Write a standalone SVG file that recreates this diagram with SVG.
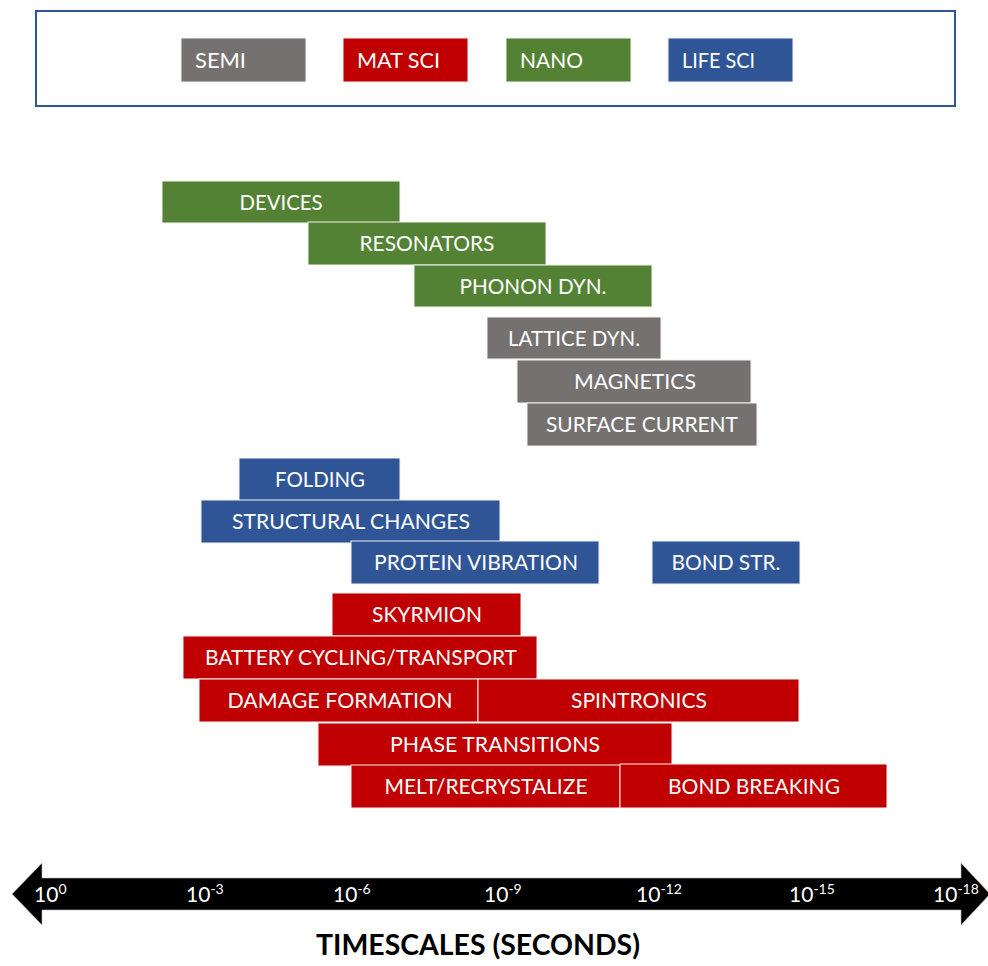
<svg xmlns="http://www.w3.org/2000/svg" width="988" height="966" viewBox="0 0 988 966">
<style>
  text { font-family: Lato, "Open Sans", "Liberation Sans", sans-serif; fill: #ffffff; font-size: 21px; }
  .bar { stroke: #f2f2f2; stroke-width: 1; }
  .semi { fill: #767171; }
  .mat { fill: #C00000; }
  .nano { fill: #548235; }
  .life { fill: #2F5597; }
  .lbl { text-anchor: middle; }
  .ax { font-size: 21px; }
  .sup { font-size: 14px; }
  .title { fill: #000000; font-weight: bold; font-size: 29px; text-anchor: middle; }
</style>
<rect x="0" y="0" width="988" height="966" fill="#ffffff"/>

<g id="legend">
  <rect x="36" y="11" width="919" height="95" fill="#ffffff" stroke="#2F5597" stroke-width="2"/>
  <g id="legend-semi"><rect class="bar semi" x="181" y="38" width="125" height="44"/><text x="195" y="68" textLength="51" lengthAdjust="spacingAndGlyphs">SEMI</text></g>
  <g id="legend-matsci"><rect class="bar mat" x="343" y="38" width="125" height="44"/><text x="357" y="68" textLength="83" lengthAdjust="spacingAndGlyphs">MAT SCI</text></g>
  <g id="legend-nano"><rect class="bar nano" x="506" y="38" width="125" height="44"/><text x="520" y="68" textLength="63" lengthAdjust="spacingAndGlyphs">NANO</text></g>
  <g id="legend-lifesci"><rect class="bar life" x="668" y="38" width="125" height="44"/><text x="682" y="68" textLength="73" lengthAdjust="spacingAndGlyphs">LIFE SCI</text></g>
</g>

<g id="devices"><rect class="bar nano" x="162" y="181" width="238" height="42"/><text class="lbl" x="281" y="210" textLength="83" lengthAdjust="spacingAndGlyphs">DEVICES</text></g>
<g id="resonators"><rect class="bar nano" x="308" y="222" width="238" height="43"/><text class="lbl" x="427" y="251" textLength="135" lengthAdjust="spacingAndGlyphs">RESONATORS</text></g>
<g id="phonon-dyn"><rect class="bar nano" x="414" y="265" width="238" height="42"/><text class="lbl" x="533" y="294" textLength="147" lengthAdjust="spacingAndGlyphs">PHONON DYN.</text></g>
<g id="lattice-dyn"><rect class="bar semi" x="487" y="317" width="174" height="42"/><text class="lbl" x="574" y="346" textLength="132" lengthAdjust="spacingAndGlyphs">LATTICE DYN.</text></g>
<g id="magnetics"><rect class="bar semi" x="517" y="360" width="234" height="43"/><text class="lbl" x="635" y="389" textLength="122" lengthAdjust="spacingAndGlyphs">MAGNETICS</text></g>
<g id="surface-current"><rect class="bar semi" x="527" y="403" width="230" height="43"/><text class="lbl" x="642" y="432" textLength="192" lengthAdjust="spacingAndGlyphs">SURFACE CURRENT</text></g>

<g id="folding"><rect class="bar life" x="239" y="458" width="161" height="43"/><text class="lbl" x="320" y="487" textLength="90" lengthAdjust="spacingAndGlyphs">FOLDING</text></g>
<g id="structural-changes"><rect class="bar life" x="201" y="500" width="299" height="43"/><text class="lbl" x="351" y="529" textLength="238" lengthAdjust="spacingAndGlyphs">STRUCTURAL CHANGES</text></g>
<g id="protein-vibration"><rect class="bar life" x="351" y="541" width="248" height="43"/><text class="lbl" x="476" y="570" textLength="204" lengthAdjust="spacingAndGlyphs">PROTEIN VIBRATION</text></g>
<g id="bond-str"><rect class="bar life" x="652" y="541" width="148" height="43"/><text class="lbl" x="726" y="570" textLength="109" lengthAdjust="spacingAndGlyphs">BOND STR.</text></g>

<g id="skyrmion"><rect class="bar mat" x="332" y="593" width="189" height="43"/><text class="lbl" x="427" y="622" textLength="110" lengthAdjust="spacingAndGlyphs">SKYRMION</text></g>
<g id="battery"><rect class="bar mat" x="183" y="636" width="354" height="43"/><text class="lbl" x="361" y="665" textLength="312" lengthAdjust="spacingAndGlyphs">BATTERY CYCLING/TRANSPORT</text></g>
<g id="damage-formation"><rect class="bar mat" x="199" y="679" width="279" height="43"/><text class="lbl" x="340" y="708" textLength="225" lengthAdjust="spacingAndGlyphs">DAMAGE FORMATION</text></g>
<g id="spintronics"><rect class="bar mat" x="478" y="679" width="321" height="43"/><text class="lbl" x="639" y="708" textLength="136" lengthAdjust="spacingAndGlyphs">SPINTRONICS</text></g>
<g id="phase-transitions"><rect class="bar mat" x="318" y="723" width="354" height="43"/><text class="lbl" x="495" y="752" textLength="210" lengthAdjust="spacingAndGlyphs">PHASE TRANSITIONS</text></g>
<g id="melt"><rect class="bar mat" x="351" y="765" width="269" height="43"/><text class="lbl" x="486" y="794" textLength="203" lengthAdjust="spacingAndGlyphs">MELT/RECRYSTALIZE</text></g>
<g id="bond-breaking"><rect class="bar mat" x="620" y="764" width="267" height="44"/><text class="lbl" x="754" y="794" textLength="172" lengthAdjust="spacingAndGlyphs">BOND BREAKING</text></g>

<g id="connectors">
  <polygon points="12,894 42,863 42,878 961,878 961,863 990,894 961,925 961,910 42,910 42,925" fill="#000000" stroke="#bfbfbf" stroke-width="0.6"/>
</g>

<g id="axis-labels">
  <text class="ax" x="34" y="902">10<tspan class="sup" dy="-8">0</tspan></text>
  <text class="ax" x="186" y="902">10<tspan class="sup" dy="-8">-3</tspan></text>
  <text class="ax" x="333" y="902">10<tspan class="sup" dy="-8">-6</tspan></text>
  <text class="ax" x="484" y="902">10<tspan class="sup" dy="-8">-9</tspan></text>
  <text class="ax" x="636" y="902">10<tspan class="sup" dy="-8">-12</tspan></text>
  <text class="ax" x="789" y="902">10<tspan class="sup" dy="-8">-15</tspan></text>
  <text class="ax" x="933" y="902">10<tspan class="sup" dy="-8">-18</tspan></text>
  <text class="title" x="478" y="955" textLength="324" lengthAdjust="spacingAndGlyphs">TIMESCALES (SECONDS)</text>
</g>
</svg>
